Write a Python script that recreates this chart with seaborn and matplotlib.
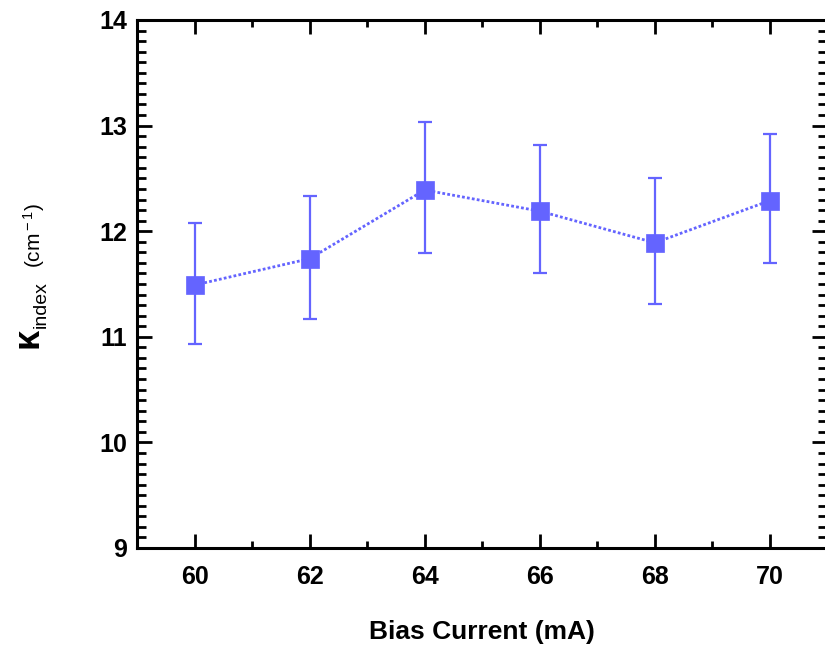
import seaborn as sns
import matplotlib.pyplot as plt
import pandas as pd
from matplotlib.ticker import MultipleLocator

# Données
bias_current = [60, 62, 64, 66, 68, 70]
kappa_index = [11.49, 11.74, 12.39, 12.19, 11.89, 12.29]
err_low = [10.93, 11.17, 11.79, 11.60, 11.31, 11.70]
err_high = [12.08, 12.33, 13.03, 12.82, 12.50, 12.92]

data = pd.DataFrame({'Bias': bias_current, 'Kappa': kappa_index})
yerr = [[k - lo for k, lo in zip(kappa_index, err_low)],
        [hi - k for k, hi in zip(kappa_index, err_high)]]

sns.set_style('ticks')
plt.rcParams['font.family'] = ['Liberation Sans', 'DejaVu Sans']
plt.rcParams['mathtext.fontset'] = 'custom'
plt.rcParams['mathtext.rm'] = 'Liberation Sans'
plt.rcParams['mathtext.it'] = 'Liberation Sans:italic'
plt.rcParams['mathtext.bf'] = 'Liberation Sans:bold'
for key in ['text.color', 'axes.labelcolor', 'xtick.color', 'ytick.color']:
    plt.rcParams[key] = 'black'

blue = '#6464FF'

fig = plt.figure(figsize=(8.25, 6.49), dpi=100)
ax = fig.add_axes([137 / 825, 101 / 649, 690.5 / 825, 528 / 649])

ax.errorbar(bias_current, kappa_index, yerr=yerr, fmt='none', ecolor=blue,
            elinewidth=1.6, capsize=5, capthick=1.6, zorder=2)
sns.lineplot(data=data, x='Bias', y='Kappa', ax=ax, color=blue, linewidth=2,
             linestyle=(0, (1, 0.8)), marker='s', markersize=13.5,
             markeredgecolor=blue, markeredgewidth=0.5, zorder=3)

ax.set_xlim(59, 71)
ax.set_ylim(9, 14)
ax.xaxis.set_major_locator(MultipleLocator(2))
ax.xaxis.set_minor_locator(MultipleLocator(1))
ax.yaxis.set_major_locator(MultipleLocator(1))
ax.yaxis.set_minor_locator(MultipleLocator(0.1))

for side in ['left', 'right', 'top', 'bottom']:
    ax.spines[side].set_visible(True)
    ax.spines[side].set_linewidth(2.2)
    ax.spines[side].set_color('black')

ax.tick_params(axis='both', which='both', direction='in', top=True, right=True,
               width=2, color='black')
ax.tick_params(axis='x', which='major', length=10, pad=12)
ax.tick_params(axis='x', which='minor', length=5)
ax.tick_params(axis='y', which='major', length=11, pad=7)
ax.tick_params(axis='y', which='minor', length=6.5)

for lab in ax.get_xticklabels() + ax.get_yticklabels():
    lab.set_fontsize(18)
    lab.set_fontweight('bold')

ax.set_xlabel('Bias Current (mA)', fontsize=19, fontweight='bold', va='center')
ax.xaxis.set_label_coords(0.5, -0.159)
ax.set_ylabel('')

# Label de l'axe y en trois morceaux
fig.text(38 / 825, 1 - 348 / 649, 'κ', fontweight='bold', fontsize=26,
         rotation=90, rotation_mode='anchor', ha='left', va='baseline')
fig.text(46 / 825, 1 - 328 / 649, 'index', fontsize=14,
         rotation=90, rotation_mode='anchor', ha='left', va='baseline')
fig.text(41 / 825, 1 - 268 / 649, r'(cm$^{\rm -1}$)', fontsize=15,
         rotation=90, rotation_mode='anchor', ha='left', va='baseline')

fig.savefig('out.png', dpi=100)
